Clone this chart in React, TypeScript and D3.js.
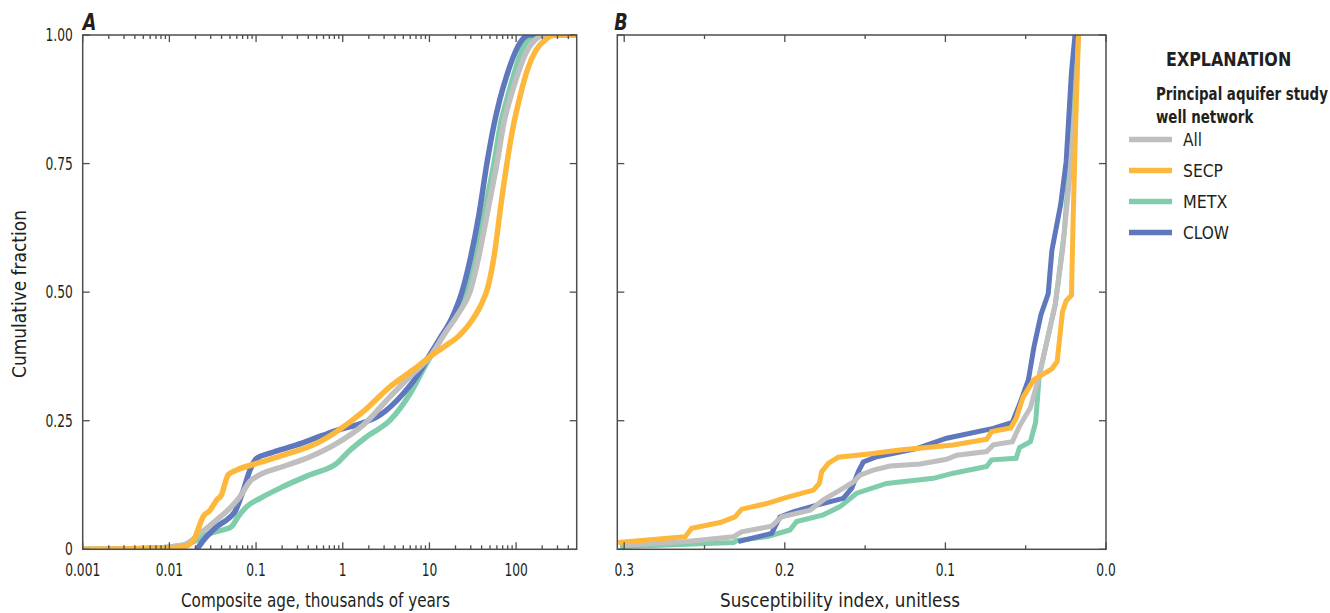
import React from "react";
import * as d3 from "d3";

// ---------- Data ----------
const seriesNames = ["All", "SECP", "METX", "CLOW"];
const seriesColors: Record<string, string> = {
  All: "#bfbfbf",
  SECP: "#fdb73b",
  METX: "#7fcdab",
  CLOW: "#5f77bd",
};
const drawOrder = ["METX", "CLOW", "All", "SECP"];

// Panel A: composite age (thousands of years) vs cumulative fraction
const ageAll: [number, number][] = [
  [0.001, 0], [0.006, 0.002], [0.0145, 0.008], [0.0226, 0.031], [0.035, 0.057], [0.05, 0.08],
  [0.065, 0.102], [0.085, 0.132], [0.111, 0.145], [0.206, 0.161], [0.42, 0.18], [0.853, 0.206],
  [1.73, 0.242], [3.52, 0.297], [6.5, 0.342], [10.2, 0.375], [15.1, 0.42], [21.9, 0.46], [29.3, 0.5],
  [37.2, 0.57], [47.3, 0.66], [60.1, 0.75], [72.4, 0.83], [84.9, 0.875], [105, 0.925], [129.7, 0.965],
  [164.8, 0.99], [214.8, 1], [500, 1],
];
const ageSECP: [number, number][] = [
  [0.001, 0], [0.008, 0.002], [0.0145, 0.005], [0.019, 0.018], [0.0246, 0.064], [0.0295, 0.076],
  [0.0352, 0.096], [0.04, 0.106], [0.0438, 0.128], [0.0478, 0.145], [0.0598, 0.154], [0.102, 0.167],
  [0.206, 0.183], [0.5, 0.206], [0.853, 0.229], [1.73, 0.268], [3.5, 0.316], [6.5, 0.349],
  [10.2, 0.375], [15.1, 0.395], [22.5, 0.417], [30.9, 0.445], [39.3, 0.475], [47.3, 0.51], [56.9, 0.58],
  [66.8, 0.67], [78.3, 0.75], [92, 0.82], [110.7, 0.88], [136.8, 0.935], [169, 0.97], [214.8, 0.99],
  [280, 1], [500, 1],
];
const ageMETX: [number, number][] = [
  [0.001, 0], [0.006, 0.002], [0.0145, 0.008], [0.0226, 0.021], [0.0294, 0.031], [0.042, 0.038],
  [0.052, 0.044], [0.0625, 0.064], [0.078, 0.083], [0.111, 0.099], [0.206, 0.122], [0.42, 0.145],
  [0.853, 0.167], [1.22, 0.193], [1.89, 0.219], [3.52, 0.251], [6, 0.303], [9.3, 0.362],
  [14.3, 0.415], [20.2, 0.46], [27.1, 0.5], [34.4, 0.57], [43.6, 0.66], [55.5, 0.75], [66.8, 0.83],
  [78.3, 0.875], [96.8, 0.93], [116.5, 0.97], [144, 0.993], [188, 1], [500, 1],
];
const ageCLOW: [number, number][] = [
  [0.0207, 0], [0.027, 0.025], [0.0352, 0.044], [0.048, 0.06], [0.057, 0.073], [0.0714, 0.115],
  [0.085, 0.154], [0.102, 0.177], [0.145, 0.187], [0.294, 0.203], [0.598, 0.222], [0.93, 0.233],
  [1.45, 0.242], [2.69, 0.261], [5, 0.303], [7.14, 0.336], [9.6, 0.372], [13.2, 0.41], [18.2, 0.45],
  [23.7, 0.5], [30.1, 0.57], [37.2, 0.65], [46, 0.75], [55.5, 0.825], [65, 0.875], [78.3, 0.922],
  [96.8, 0.965], [116.5, 0.99], [144, 1], [500, 1],
];

// Panel B: susceptibility index vs cumulative fraction
const suscAll: [number, number][] = [
  [0.3006, 0.008], [0.2611, 0.015], [0.232, 0.0245], [0.2268, 0.034], [0.2082, 0.045], [0.2019, 0.063],
  [0.1843, 0.076], [0.176, 0.096], [0.1656, 0.115], [0.1573, 0.131], [0.1532, 0.144], [0.1449, 0.154],
  [0.1345, 0.162], [0.1158, 0.166], [0.0992, 0.175], [0.093, 0.183], [0.0743, 0.19], [0.0702, 0.203],
  [0.0583, 0.209], [0.0538, 0.24], [0.0471, 0.275], [0.0416, 0.337], [0.0371, 0.4], [0.0316, 0.476],
  [0.0271, 0.581], [0.0227, 0.72], [0.0193, 0.859], [0.0171, 1.0],
];
const suscSECP: [number, number][] = [
  [0.3037, 0.013], [0.262, 0.0245], [0.258, 0.041], [0.2403, 0.052], [0.231, 0.063], [0.2268, 0.078],
  [0.2113, 0.089], [0.1988, 0.101], [0.1822, 0.115], [0.1785, 0.128], [0.177, 0.151], [0.1729, 0.167],
  [0.1667, 0.179], [0.149, 0.185], [0.1283, 0.193], [0.0951, 0.203], [0.0743, 0.214], [0.0712, 0.229],
  [0.0594, 0.236], [0.056, 0.254], [0.0516, 0.296], [0.0449, 0.33], [0.0337, 0.351], [0.0304, 0.365],
  [0.0271, 0.462], [0.0248, 0.483], [0.0215, 0.494], [0.0204, 0.65], [0.0186, 0.859], [0.0171, 1.0],
];
const suscMETX: [number, number][] = [
  [0.3026, 0.005], [0.232, 0.013], [0.23, 0.017], [0.2113, 0.0245], [0.1968, 0.0375], [0.1926, 0.054],
  [0.176, 0.067], [0.1656, 0.083], [0.1552, 0.109], [0.1366, 0.128], [0.1075, 0.138], [0.0951, 0.148],
  [0.0743, 0.161], [0.0712, 0.174], [0.056, 0.177], [0.0538, 0.198], [0.0471, 0.209], [0.0438, 0.247],
  [0.0416, 0.337], [0.0371, 0.4], [0.0316, 0.476], [0.026, 0.615], [0.0227, 0.754], [0.018, 1.0],
];
const suscCLOW: [number, number][] = [
  [0.229, 0.015], [0.2082, 0.031], [0.203, 0.063], [0.1947, 0.073], [0.1801, 0.086], [0.1636, 0.099],
  [0.1583, 0.119], [0.1542, 0.151], [0.1511, 0.17], [0.1428, 0.18], [0.1179, 0.196], [0.0992, 0.216],
  [0.0702, 0.235], [0.0583, 0.247], [0.0538, 0.282], [0.0483, 0.33], [0.0449, 0.393], [0.0405, 0.456],
  [0.036, 0.497], [0.0337, 0.581], [0.0282, 0.671], [0.0248, 0.754], [0.0215, 0.928], [0.0193, 1.0],
];

const panelAData: Record<string, [number, number][]> = { All: ageAll, SECP: ageSECP, METX: ageMETX, CLOW: ageCLOW };
const panelBData: Record<string, [number, number][]> = { All: suscAll, SECP: suscSECP, METX: suscMETX, CLOW: suscCLOW };

const yTicks = [0, 0.25, 0.5, 0.75, 1];
const yTickLabels = ["0", "0.25", "0.50", "0.75", "1.00"];
const xTicksA = [0.001, 0.01, 0.1, 1, 10, 100];
const xTickLabelsA = ["0.001", "0.01", "0.1", "1", "10", "100"];
const xTicksB = [0.3, 0.2, 0.1, 0];
const xTickLabelsB = ["0.3", "0.2", "0.1", "0.0"];
const xMinorB = [0.25, 0.15, 0.05];
const legendTitle = "EXPLANATION";
const legendSubtitle = ["Principal aquifer study", "well network"];
const legendLabelWidths: Record<string, number> = { All: 19, SECP: 40, METX: 44.5, CLOW: 46 };

// ---------- Layout ----------
const FONT = "'DejaVu Sans Condensed', 'DejaVu Sans', sans-serif";
const TOP = 35;
const BOTTOM = 549.3;
const A_LEFT = 82.7;
const A_RIGHT = 576.7;
const B_LEFT = 617.3;
const B_RIGHT = 1106;
const AXIS_COLOR = "#4d4d4d";
const TEXT_COLOR = "#231f20";
const SX = 0.8;

function CText(props: {
  x: number; y: number; anchor?: string; size: number; bold?: boolean; italic?: boolean;
  sx?: number; rotate?: number; dy?: string; children: React.ReactNode;
}) {
  const { x, y, anchor = "start", size, bold, italic, sx = SX, rotate = 0, dy, children } = props;
  return (
    <text
      transform={`translate(${x},${y}) rotate(${rotate}) scale(${sx},1)`}
      textAnchor={anchor}
      fontSize={size}
      fontWeight={bold ? "bold" : "normal"}
      fontStyle={italic ? "italic" : "normal"}
      dy={dy}
    >
      {children}
    </text>
  );
}

function FitText(props: {
  x: number; y: number; anchor?: string; size: number; bold?: boolean; len: number;
  rotate?: number; dy?: string; children: React.ReactNode;
}) {
  const { x, y, anchor = "start", size, bold, len, rotate = 0, dy, children } = props;
  return (
    <text
      transform={`translate(${x},${y}) rotate(${rotate})`}
      textAnchor={anchor}
      fontSize={size}
      fontWeight={bold ? "bold" : "normal"}
      textLength={len}
      lengthAdjust="spacingAndGlyphs"
      dy={dy}
    >
      {children}
    </text>
  );
}

export default function App() {
  const y = d3.scaleLinear().domain([0, 1]).range([BOTTOM, TOP]);
  const xA = d3.scaleLog().domain([0.001, 500]).range([A_LEFT, A_RIGHT]);
  const xB = d3.scaleLinear().domain([0.3043, 0]).range([B_LEFT, B_RIGHT]);

  const lineA = d3
    .line<[number, number]>()
    .x((d) => xA(d[0]))
    .y((d) => y(d[1]))
    .curve(d3.curveMonotoneX);
  const lineB = d3
    .line<[number, number]>()
    .x((d) => xB(d[0]))
    .y((d) => y(d[1]))
    .curve(d3.curveLinear);

  const minorA: number[] = [];
  xTicksA.forEach((m) => {
    for (let k = 2; k <= 9; k++) {
      const v = m * k;
      if (v < 500) minorA.push(v);
    }
  });

  const MAJ = 7;
  const MIN = 4;

  const frame = (left: number, right: number) => (
    <rect x={left} y={TOP} width={right - left} height={BOTTOM - TOP} fill="none" stroke={AXIS_COLOR} strokeWidth={1.5} />
  );

  const yTickMarks = (left: number, right: number) =>
    yTicks.map((t, i) => (
      <g key={"yt" + i}>
        <line x1={left} x2={left + MAJ} y1={y(t)} y2={y(t)} stroke={AXIS_COLOR} strokeWidth={1.3} />
        <line x1={right} x2={right - MAJ} y1={y(t)} y2={y(t)} stroke={AXIS_COLOR} strokeWidth={1.3} />
      </g>
    ));

  const xTickMarks = (vals: number[], sx: (v: number) => number, len: number, key: string) =>
    vals.map((v, i) => (
      <g key={key + i}>
        <line x1={sx(v)} x2={sx(v)} y1={BOTTOM} y2={BOTTOM - len} stroke={AXIS_COLOR} strokeWidth={1.3} />
        <line x1={sx(v)} x2={sx(v)} y1={TOP} y2={TOP + len} stroke={AXIS_COLOR} strokeWidth={1.3} />
      </g>
    ));

  return (
    <svg width={1330} height={613} style={{ display: "block", position: "absolute", left: 0, top: 0 }}>
      <defs>
        <clipPath id="clipA">
          <rect x={A_LEFT} y={TOP} width={A_RIGHT - A_LEFT} height={BOTTOM - TOP} />
        </clipPath>
        <clipPath id="clipB">
          <rect x={B_LEFT} y={TOP} width={B_RIGHT - B_LEFT} height={BOTTOM - TOP} />
        </clipPath>
      </defs>
      <rect x={0} y={0} width={1330} height={613} fill="#ffffff" />

      <g clipPath="url(#clipA)">
        {drawOrder.map((name) => (
          <path key={"a" + name} d={lineA(panelAData[name]) || ""} fill="none" stroke={seriesColors[name]}
            strokeWidth={5.5} strokeLinejoin="round" strokeLinecap="butt" />
        ))}
      </g>
      <g clipPath="url(#clipB)">
        {drawOrder.map((name) => (
          <path key={"b" + name} d={lineB(panelBData[name]) || ""} fill="none" stroke={seriesColors[name]}
            strokeWidth={5} strokeLinejoin="miter" strokeLinecap="butt" />
        ))}
      </g>

      {frame(A_LEFT, A_RIGHT)}
      {frame(B_LEFT, B_RIGHT)}
      {yTickMarks(A_LEFT, A_RIGHT)}
      {yTickMarks(B_LEFT, B_RIGHT)}
      {xTickMarks(xTicksA, xA, MAJ, "am")}
      {xTickMarks(minorA, xA, MIN, "an")}
      {xTickMarks(xTicksB, xB, MAJ, "bm")}
      {xTickMarks(xMinorB, xB, MIN, "bn")}

      <g fontFamily={FONT} fill={TEXT_COLOR}>
        {yTicks.map((t, i) => (
          <CText key={"yl" + i} x={A_LEFT - 10} y={y(t)} dy="0.36em" anchor="end" size={17}>{yTickLabels[i]}</CText>
        ))}
        {xTicksA.map((t, i) => (
          <CText key={"xla" + i} x={xA(t)} y={576} anchor="middle" size={17}>{xTickLabelsA[i]}</CText>
        ))}
        {xTicksB.map((t, i) => (
          <CText key={"xlb" + i} x={xB(t)} y={576} anchor="middle" size={17}>{xTickLabelsB[i]}</CText>
        ))}

        <FitText x={181} y={607} size={19} len={269}>Composite age, thousands of years</FitText>
        <FitText x={720} y={607} size={19} len={240}>Susceptibility index, unitless</FitText>
        <FitText x={26} y={378} size={19} len={168} rotate={-90}>Cumulative fraction</FitText>

        <CText x={A_LEFT} y={30} size={23} bold italic sx={0.85}>A</CText>
        <CText x={B_LEFT - 3} y={30} size={23} bold italic sx={0.85}>B</CText>

        <CText x={1166} y={66} size={20} bold sx={0.886}>{legendTitle}</CText>
        <CText x={1156} y={100} size={17} bold sx={0.875}>{legendSubtitle[0]}</CText>
        <CText x={1156} y={123} size={17} bold sx={0.875}>{legendSubtitle[1]}</CText>
        {seriesNames.map((name, i) => (
          <g key={"lg" + name}>
            <line x1={1129} x2={1172} y1={139.5 + i * 31} y2={139.5 + i * 31} stroke={seriesColors[name]} strokeWidth={5.5} />
            <FitText x={1183} y={139.5 + i * 31} dy="0.36em" size={17} len={legendLabelWidths[name]}>{name}</FitText>
          </g>
        ))}
      </g>
    </svg>
  );
}
